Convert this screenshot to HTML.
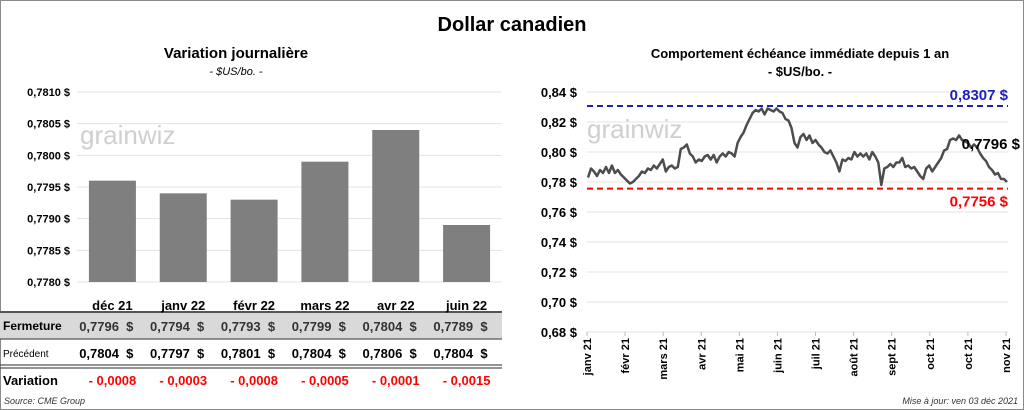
<!DOCTYPE html>
<html><head><meta charset="utf-8">
<style>
body{margin:0;background:#fff;}
#root{position:relative;width:1024px;height:410px;overflow:hidden;font-family:"Liberation Sans",sans-serif;}
svg text{font-family:"Liberation Sans",sans-serif;}
</style></head>
<body>
<div id="root">
<svg id="svg" width="1024" height="410" xmlns="http://www.w3.org/2000/svg">
<rect x="0.5" y="0.5" width="1023" height="409" fill="#fff" stroke="#8a8a8a"/>
<text x="512" y="31" text-anchor="middle" font-size="20" font-weight="bold">Dollar canadien</text>
<text x="236" y="58" text-anchor="middle" font-size="15" font-weight="bold">Variation  journalière</text>
<text x="236" y="75" text-anchor="middle" font-size="11" font-style="italic">- $US/bo. -</text>
<text x="800" y="58" text-anchor="middle" font-size="13" font-weight="bold">Comportement échéance immédiate depuis 1 an</text>
<text x="800" y="76" text-anchor="middle" font-size="13" font-weight="bold">- $US/bo. -</text>
<text x="80" y="144" font-size="26" fill="#cfcfcf">grainwiz</text>
<text x="587" y="138" font-size="26" fill="#cfcfcf">grainwiz</text>
<g id="left"></g>
<g id="right"></g>
<text x="4" y="404" font-size="9" font-style="italic" fill="#333">Source: CME Group</text>
<text x="1018" y="404" text-anchor="end" font-size="9" font-style="italic" fill="#333">Mise à jour: ven 03 déc 2021</text>
</svg>
</div>
<script>
const categories=["déc 21","janv 22","févr 22","mars 22","avr 22","juin 22"];
const closeVals=[0.7796,0.7794,0.7793,0.7799,0.7804,0.7789];
const prevVals=[0.7804,0.7797,0.7801,0.7804,0.7806,0.7804];
const varVals=["- 0,0008","- 0,0003","- 0,0008","- 0,0005","- 0,0001","- 0,0015"];
const leftTicks=[0.7780,0.7785,0.7790,0.7795,0.7800,0.7805,0.7810];
const rightTicks=[0.68,0.70,0.72,0.74,0.76,0.78,0.80,0.82,0.84];
const monthLabels=["janv 21","févr 21","mars 21","avr 21","mai 21","juin 21","juil 21","août 21","sept 21","oct 21","oct 21","nov 21"];
const highVal=0.8307, lowVal=0.7756, lastVal=0.7796;
const series=[0.783,0.789,0.787,0.784,0.788,0.786,0.790,0.786,0.791,0.786,0.788,0.785,
0.783,0.781,0.779,0.780,0.782,0.784,0.787,0.786,0.789,0.788,0.791,0.789,
0.792,0.795,0.787,0.790,0.791,0.789,0.790,0.802,0.803,0.805,0.799,0.797,
0.793,0.795,0.794,0.797,0.798,0.795,0.798,0.793,0.797,0.799,0.797,0.800,0.799,0.797,
0.806,0.810,0.813,0.818,0.822,0.826,0.828,0.827,0.829,0.825,0.829,0.828,0.827,0.829,
0.827,0.826,0.822,0.821,0.816,0.806,0.803,0.810,0.812,0.808,0.811,0.806,0.808,
0.805,0.803,0.800,0.799,0.801,0.797,0.793,0.787,0.795,0.794,0.796,0.795,0.800,0.797,
0.799,0.797,0.799,0.795,0.800,0.797,0.793,0.778,0.789,0.790,0.792,0.790,0.793,
0.793,0.796,0.790,0.791,0.789,0.790,0.787,0.784,0.782,0.789,0.791,0.787,0.790,
0.793,0.796,0.801,0.802,0.808,0.809,0.808,0.811,0.808,0.807,0.806,0.803,0.805,
0.803,0.799,0.796,0.794,0.790,0.788,0.785,0.786,0.782,0.782,0.780];
const NS="http://www.w3.org/2000/svg";
function mk(tag,attrs,parent,txt){const e=document.createElementNS(NS,tag);for(const k in attrs)e.setAttribute(k,attrs[k]);if(txt!==undefined)e.textContent=txt;parent.appendChild(e);return e;}
const fmt=(v,d)=>v.toFixed(d).replace('.',',');
// left chart
const L=document.getElementById('left');
const lx0=77,lx1=502,ly0=282,ly1=92,lmin=0.7780,lmax=0.7810;
const ly=v=>ly0-(v-lmin)/(lmax-lmin)*(ly0-ly1);
const bw=(lx1-lx0)/categories.length;
const lxc=i=>lx0+bw*(i+0.5);
leftTicks.forEach(t=>{
 const g=mk('line',{x1:lx0,x2:lx1,y1:ly(t),y2:ly(t),stroke:'#e3e3e3'},L);
 
 
 const tx=mk('text',{x:70,y:ly(t)+4,'text-anchor':'end','font-size':11,'font-weight':'bold'},L,fmt(t,4)+' $');
 
 
});
closeVals.forEach((v,i)=>{
 const r=mk('rect',{x:lxc(i)-23.5,y:ly(v),width:47,height:ly0-ly(v),fill:'#7f7f7f'},L);
 
 
});
// table
mk('rect',{x:0,y:313,width:502,height:26,fill:'#d9d9d9'},L);
[[312,2],[339,1.2],[365,1.2],[368,1.2]].forEach(a=>{const l=mk('line',{x1:0,x2:502,y1:a[0],y2:a[0],stroke:'#555','stroke-width':a[1]},L);});
const rl=[['Fermeture',330,12,'bold'],['Précédent',357,10,'normal'],['Variation',385,13,'bold']];
rl.forEach(r=>{const t=mk('text',{x:3,y:r[1],'font-size':r[2],'font-weight':r[3]},L,r[0]);});
categories.forEach((c,i)=>{
 const t=mk('text',{x:lxc(i),y:310,'text-anchor':'middle','font-size':13,'font-weight':'bold'},L,c);
 
 
 const a=mk('text',{x:lxc(i)+21,y:331,'text-anchor':'end','font-size':13,'font-weight':'bold',fill:'#333'},L,fmt(closeVals[i],4)+'  $');
 
 
 a.style.whiteSpace='pre';
 const b=mk('text',{x:lxc(i)+21,y:358,'text-anchor':'end','font-size':13,'font-weight':'bold'},L,fmt(prevVals[i],4)+'  $');
 
 
 b.style.whiteSpace='pre';
 const d=mk('text',{x:lxc(i),y:385,'text-anchor':'middle','font-size':13,'font-weight':'bold',fill:'#ff0000'},L,varVals[i]);
 
 
});
// right chart
const R=document.getElementById('right');
const rx0=587,rx1=1008,ry0=332,ry1=92,rmin=0.68,rmax=0.84;
const ry=v=>ry0-(v-rmin)/(rmax-rmin)*(ry0-ry1);
rightTicks.forEach(t=>{
 const g=mk('line',{x1:rx0,x2:rx1,y1:ry(t),y2:ry(t),stroke:'#e3e3e3'},R);
 
 
 const tx=mk('text',{x:577,y:ry(t)+5,'text-anchor':'end','font-size':13,'font-weight':'bold'},R,fmt(t,2)+' $');
 
 
});
const mstep=(rx1-2-rx0)/(monthLabels.length-1);
monthLabels.forEach((m,i)=>{
 const x=rx0+mstep*i;
 const tk=mk('line',{x1:x,x2:x,y1:ry0,y2:ry0+4,stroke:'#bbb'},R);
 
 
 const t=mk('text',{x:0,y:0,transform:`translate(${x+4},${ry0+6}) rotate(-90)`,'text-anchor':'end','font-size':11,'font-weight':'bold'},R,m);
 
 
});
const hl=mk('line',{x1:rx0,x2:rx1,y1:ry(highVal),y2:ry(highVal),stroke:'#1f1fbf','stroke-width':2,'stroke-dasharray':'6,4'},R);


const ll=mk('line',{x1:rx0,x2:rx1,y1:ry(lowVal),y2:ry(lowVal),stroke:'#ff0000','stroke-width':2,'stroke-dasharray':'6,4'},R);


const n=series.length;
const sx=i=>rx0+1+(rx1-rx0-2)*i/(n-1);
const pts=series.map((v,i)=>sx(i).toFixed(1)+','+ry(v).toFixed(1)).join(' ');
const pl=mk('polyline',{points:pts,fill:'none',stroke:'#4d4d4d','stroke-width':2.5,'stroke-linejoin':'round'},R);


const ht=mk('text',{x:1008,y:ry(highVal)-6,'text-anchor':'end','font-size':15,'font-weight':'bold',fill:'#1f1fbf'},R,fmt(highVal,4)+' $');


const lt=mk('text',{x:1008,y:ry(lowVal)+18,'text-anchor':'end','font-size':15,'font-weight':'bold',fill:'#ff0000'},R,fmt(lowVal,4)+' $');


const ct=mk('text',{x:1020,y:149,'text-anchor':'end','font-size':15,'font-weight':'bold'},R,fmt(lastVal,4)+' $');


</script>
</body></html>
